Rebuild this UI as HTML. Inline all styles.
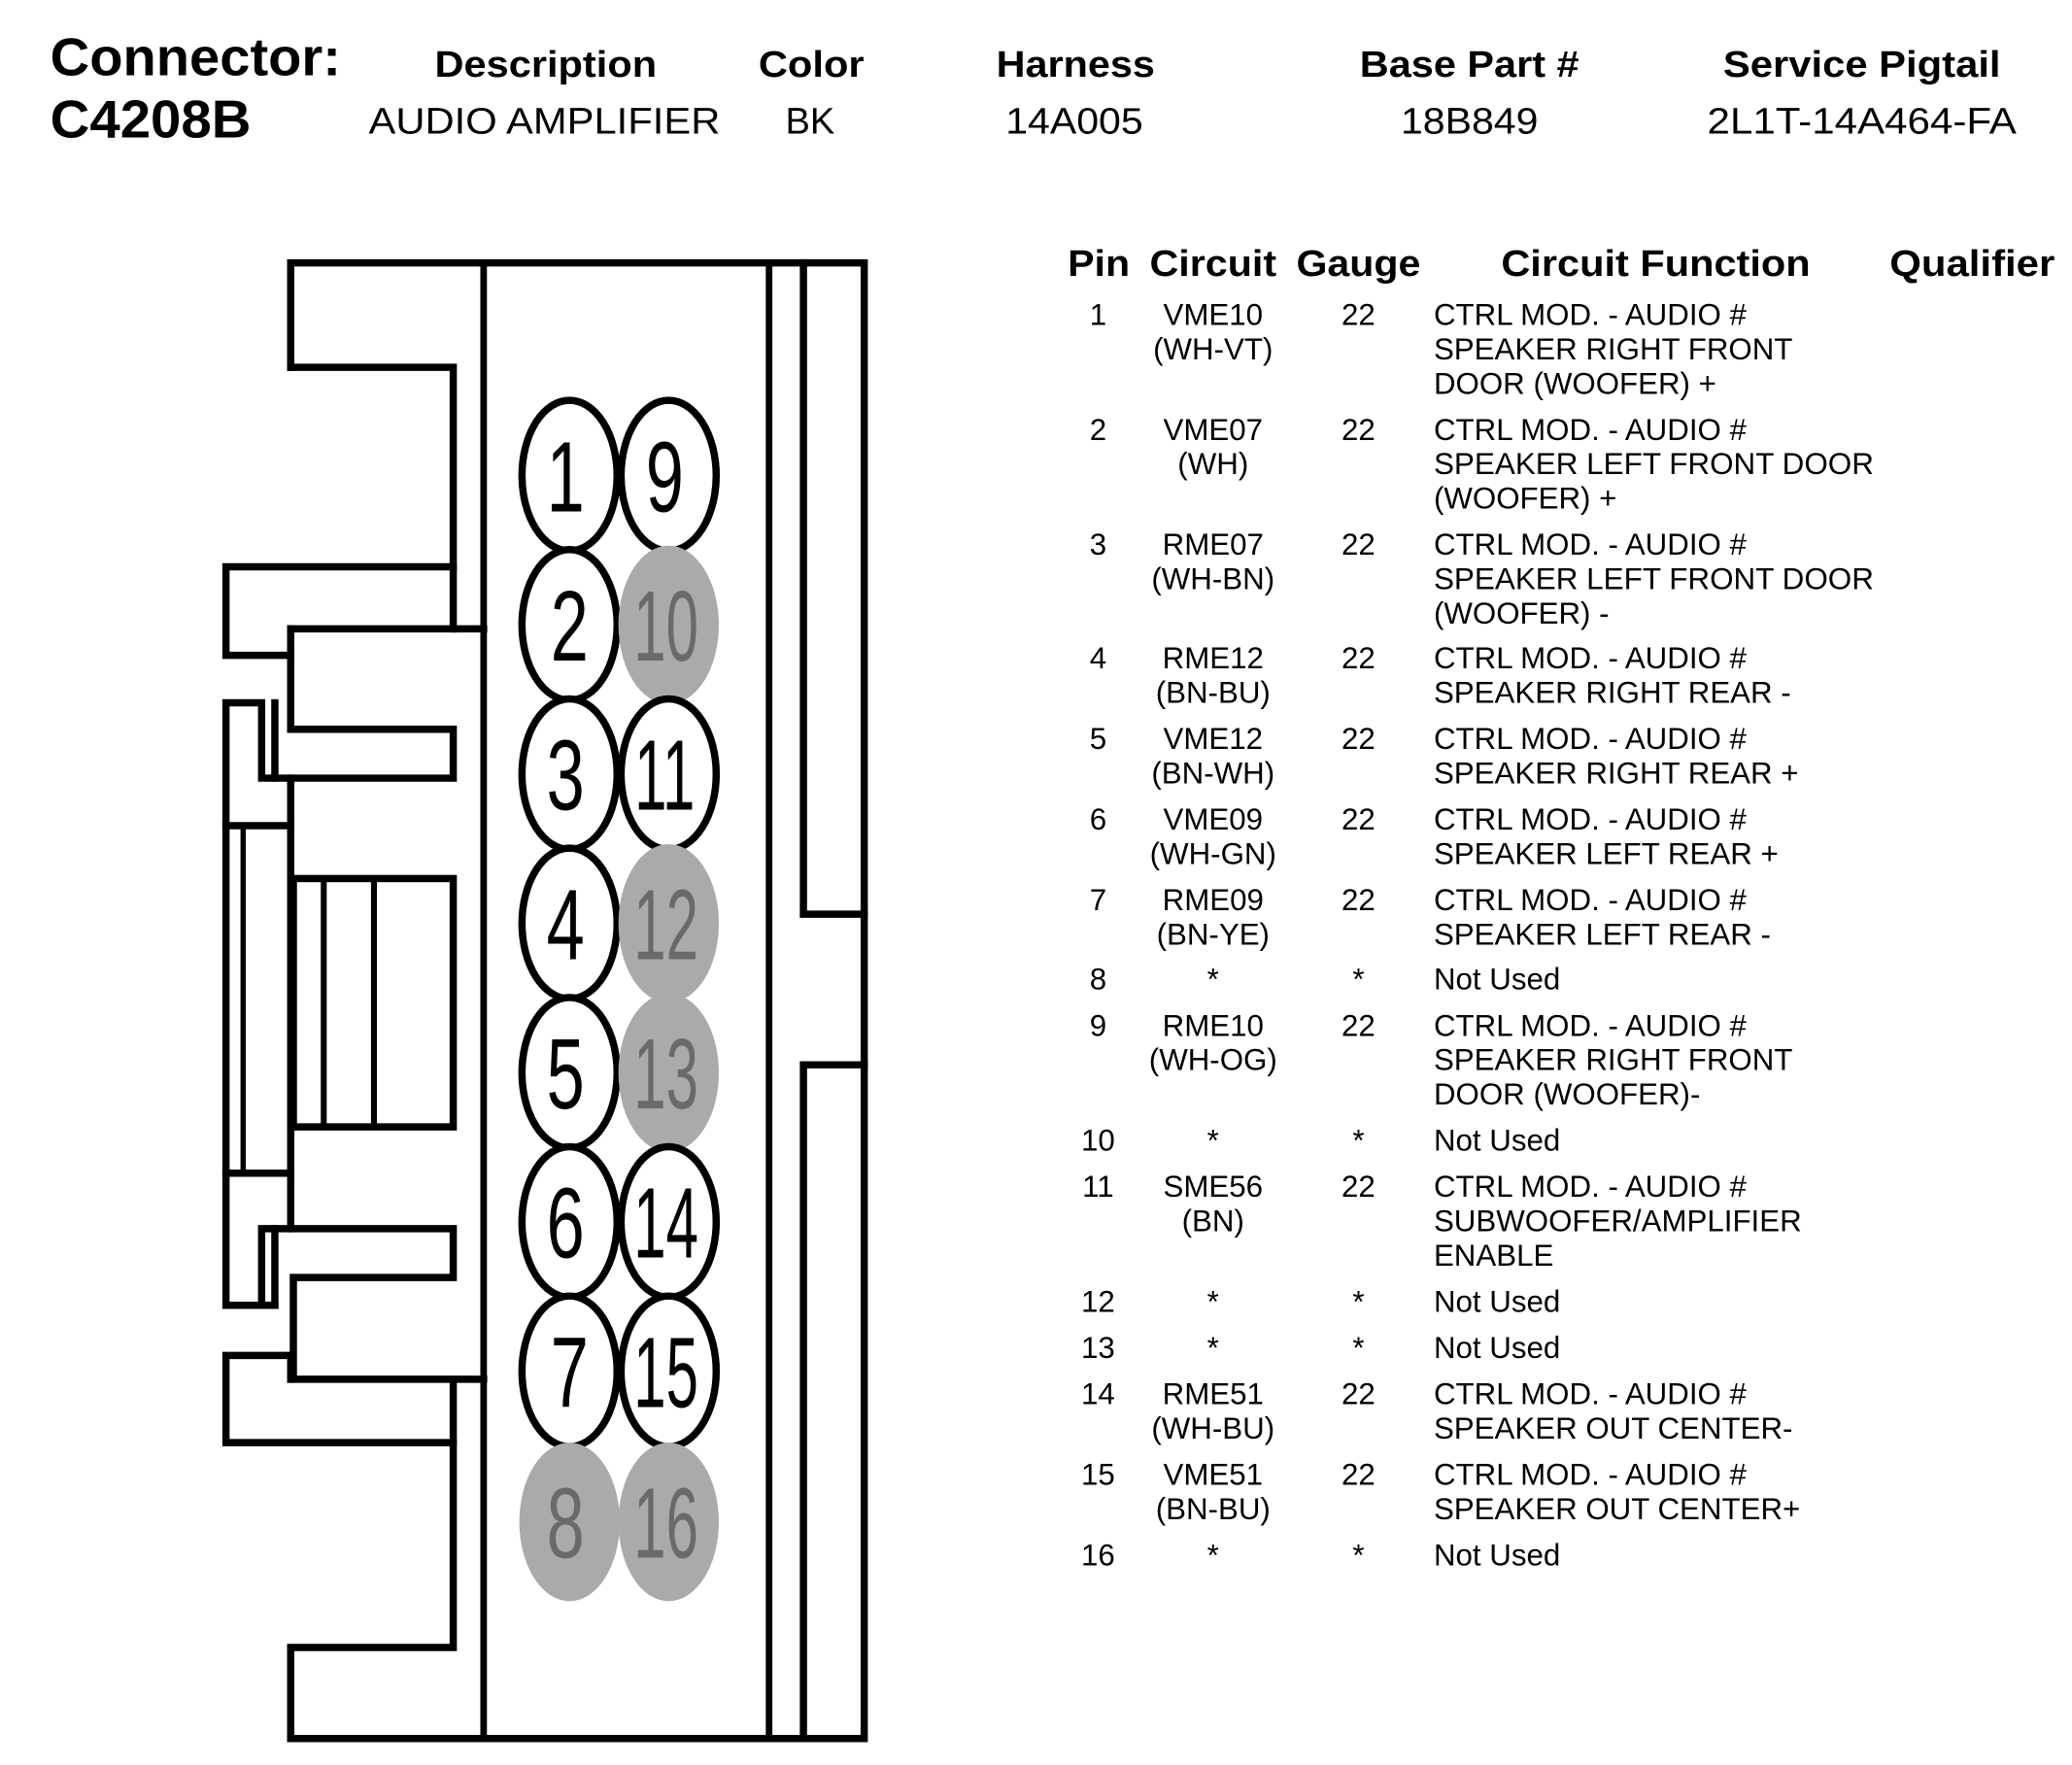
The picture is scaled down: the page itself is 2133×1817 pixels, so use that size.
<!DOCTYPE html>
<html><head><meta charset="utf-8"><style>
html,body{margin:0;padding:0;background:#fff;}
svg{display:block;}
text{font-family:"Liberation Sans",Arial,sans-serif;fill:#000;}
.h{font-weight:bold;font-size:28px;}
.v{font-size:28px;}
.t{font-size:23px;}
.n{font-size:76px;}
.g{fill:#6a6a6a;}
</style></head><body>
<svg width="2133" height="1817" viewBox="0 0 1568 1336" preserveAspectRatio="none" xmlns="http://www.w3.org/2000/svg">
<rect width="1568" height="1336" fill="#fff"/>
<text x="38" y="57" style="font-weight:bold;font-size:40px" textLength="220" lengthAdjust="spacingAndGlyphs">Connector:</text>
<text x="38" y="104" style="font-weight:bold;font-size:40px" textLength="152" lengthAdjust="spacingAndGlyphs">C4208B</text>
<g class="h" text-anchor="middle">
<text x="413" y="58" textLength="168" lengthAdjust="spacingAndGlyphs">Description</text>
<text x="614" y="58" textLength="80" lengthAdjust="spacingAndGlyphs">Color</text>
<text x="814" y="58" textLength="120" lengthAdjust="spacingAndGlyphs">Harness</text>
<text x="1112" y="58" textLength="166" lengthAdjust="spacingAndGlyphs">Base Part #</text>
<text x="1409" y="58" textLength="210" lengthAdjust="spacingAndGlyphs">Service Pigtail</text>
</g>
<g class="v" text-anchor="middle">
<text x="412" y="101" textLength="266" lengthAdjust="spacingAndGlyphs">AUDIO AMPLIFIER</text>
<text x="613" y="101">BK</text>
<text x="813" y="101" textLength="104" lengthAdjust="spacingAndGlyphs">14A005</text>
<text x="1112" y="101" textLength="104" lengthAdjust="spacingAndGlyphs">18B849</text>
<text x="1409" y="101" textLength="234" lengthAdjust="spacingAndGlyphs">2L1T-14A464-FA</text>
</g>

<g fill="none" stroke="#000" stroke-width="5.5" stroke-linecap="square" stroke-linejoin="miter">
<polyline points="220,278 220,199 654,199 654,1316 220,1316 220,1247 343,1247 343,1048"/>
<line x1="366" y1="199" x2="366" y2="1316" stroke-width="5"/>
<line x1="582" y1="199" x2="582" y2="1316" stroke-width="5"/>
<polyline points="608,199 608,692 654,692"/>
<polyline points="654,806 608,806 608,1316"/>
<polyline points="220,278 343,278 343,476"/>
<line x1="220" y1="476" x2="366" y2="476"/>
<polyline points="343,429 171,429 171,496 220,496"/>
<polyline points="220,476 220,552 343,552 343,589 198,589 198,532 171,532 171,988 208,988"/>
<line x1="208" y1="532" x2="208" y2="589"/>
<line x1="171" y1="625" x2="220" y2="625"/>
<line x1="184" y1="625" x2="184" y2="888" stroke-width="4"/>
<line x1="171" y1="888" x2="220" y2="888"/>
<line x1="220" y1="589" x2="220" y2="930"/>
<rect x="222" y="665" width="121" height="188"/>
<line x1="245" y1="665" x2="245" y2="853" stroke-width="4.5"/>
<line x1="283" y1="665" x2="283" y2="853" stroke-width="4.5"/>
<polyline points="198,988 198,930 343,930 343,967 222,967 222,1044 366,1044"/>
<line x1="208" y1="930" x2="208" y2="988"/>
<polyline points="220,1026 171,1026 171,1092 343,1092"/>
<line x1="220" y1="1026" x2="220" y2="1044"/>
</g>

<g>
<ellipse cx="431" cy="360" rx="36" ry="57" fill="#fff" stroke="#000" stroke-width="5.5"/>
<ellipse cx="506" cy="360" rx="36" ry="57" fill="#fff" stroke="#000" stroke-width="5.5"/>
<ellipse cx="431" cy="473" rx="36" ry="57" fill="#fff" stroke="#000" stroke-width="5.5"/>
<ellipse cx="506" cy="473" rx="38" ry="60" fill="#aaa"/>
<ellipse cx="431" cy="586" rx="36" ry="57" fill="#fff" stroke="#000" stroke-width="5.5"/>
<ellipse cx="506" cy="586" rx="36" ry="57" fill="#fff" stroke="#000" stroke-width="5.5"/>
<ellipse cx="431" cy="699" rx="36" ry="57" fill="#fff" stroke="#000" stroke-width="5.5"/>
<ellipse cx="506" cy="699" rx="38" ry="60" fill="#aaa"/>
<ellipse cx="431" cy="812" rx="36" ry="57" fill="#fff" stroke="#000" stroke-width="5.5"/>
<ellipse cx="506" cy="812" rx="38" ry="60" fill="#aaa"/>
<ellipse cx="431" cy="925" rx="36" ry="57" fill="#fff" stroke="#000" stroke-width="5.5"/>
<ellipse cx="506" cy="925" rx="36" ry="57" fill="#fff" stroke="#000" stroke-width="5.5"/>
<ellipse cx="431" cy="1038" rx="36" ry="57" fill="#fff" stroke="#000" stroke-width="5.5"/>
<ellipse cx="506" cy="1038" rx="36" ry="57" fill="#fff" stroke="#000" stroke-width="5.5"/>
<ellipse cx="431" cy="1152" rx="38" ry="60" fill="#aaa"/>
<ellipse cx="506" cy="1152" rx="38" ry="60" fill="#aaa"/>
</g>
<g class="n" text-anchor="middle">
<text transform="translate(428,387) scale(0.68,1)">1</text>
<text transform="translate(503,387) scale(0.68,1)">9</text>
<text transform="translate(431,500) scale(0.68,1)">2</text>
<text class="g" transform="translate(504,500) scale(0.58,1)">10</text>
<text transform="translate(428,613) scale(0.68,1)">3</text>
<text transform="translate(503,613) scale(0.58,1)">11</text>
<text transform="translate(428,726) scale(0.68,1)">4</text>
<text class="g" transform="translate(504,726) scale(0.58,1)">12</text>
<text transform="translate(428,839) scale(0.68,1)">5</text>
<text class="g" transform="translate(504,839) scale(0.58,1)">13</text>
<text transform="translate(428,952) scale(0.68,1)">6</text>
<text transform="translate(504,952) scale(0.58,1)">14</text>
<text transform="translate(431,1065) scale(0.68,1)">7</text>
<text transform="translate(504,1065) scale(0.58,1)">15</text>
<text class="g" transform="translate(428,1179) scale(0.68,1)">8</text>
<text class="g" transform="translate(504,1179) scale(0.58,1)">16</text>
</g>

<g class="h">
<text x="808" y="209" textLength="47" lengthAdjust="spacingAndGlyphs">Pin</text>
<text x="870" y="209" textLength="96" lengthAdjust="spacingAndGlyphs">Circuit</text>
<text x="981" y="209" textLength="94" lengthAdjust="spacingAndGlyphs">Gauge</text>
<text x="1136" y="209" textLength="234" lengthAdjust="spacingAndGlyphs">Circuit Function</text>
<text x="1430" y="209" textLength="125" lengthAdjust="spacingAndGlyphs">Qualifier</text>
</g>

<g class="t">
<g text-anchor="middle">
<text x="831" y="246">1</text><text x="918" y="246">VME10</text><text x="918" y="272">(WH-VT)</text><text x="1028" y="246">22</text>
<text x="831" y="333">2</text><text x="918" y="333">VME07</text><text x="918" y="359">(WH)</text><text x="1028" y="333">22</text>
<text x="831" y="420">3</text><text x="918" y="420">RME07</text><text x="918" y="446">(WH-BN)</text><text x="1028" y="420">22</text>
<text x="831" y="506">4</text><text x="918" y="506">RME12</text><text x="918" y="532">(BN-BU)</text><text x="1028" y="506">22</text>
<text x="831" y="567">5</text><text x="918" y="567">VME12</text><text x="918" y="593">(BN-WH)</text><text x="1028" y="567">22</text>
<text x="831" y="628">6</text><text x="918" y="628">VME09</text><text x="918" y="654">(WH-GN)</text><text x="1028" y="628">22</text>
<text x="831" y="689">7</text><text x="918" y="689">RME09</text><text x="918" y="715">(BN-YE)</text><text x="1028" y="689">22</text>
<text x="831" y="749">8</text><text x="918" y="749">*</text><text x="1028" y="749">*</text>
<text x="831" y="784">9</text><text x="918" y="784">RME10</text><text x="918" y="810">(WH-OG)</text><text x="1028" y="784">22</text>
<text x="831" y="871">10</text><text x="918" y="871">*</text><text x="1028" y="871">*</text>
<text x="831" y="906">11</text><text x="918" y="906">SME56</text><text x="918" y="932">(BN)</text><text x="1028" y="906">22</text>
<text x="831" y="993">12</text><text x="918" y="993">*</text><text x="1028" y="993">*</text>
<text x="831" y="1028">13</text><text x="918" y="1028">*</text><text x="1028" y="1028">*</text>
<text x="831" y="1063">14</text><text x="918" y="1063">RME51</text><text x="918" y="1089">(WH-BU)</text><text x="1028" y="1063">22</text>
<text x="831" y="1124">15</text><text x="918" y="1124">VME51</text><text x="918" y="1150">(BN-BU)</text><text x="1028" y="1124">22</text>
<text x="831" y="1185">16</text><text x="918" y="1185">*</text><text x="1028" y="1185">*</text>
</g>
<g>
<text x="1085" y="246">CTRL MOD. - AUDIO #</text>
<text x="1085" y="272">SPEAKER RIGHT FRONT</text>
<text x="1085" y="298">DOOR (WOOFER) +</text>
<text x="1085" y="333">CTRL MOD. - AUDIO #</text>
<text x="1085" y="359" textLength="333" lengthAdjust="spacingAndGlyphs">SPEAKER LEFT FRONT DOOR</text>
<text x="1085" y="385">(WOOFER) +</text>
<text x="1085" y="420">CTRL MOD. - AUDIO #</text>
<text x="1085" y="446" textLength="333" lengthAdjust="spacingAndGlyphs">SPEAKER LEFT FRONT DOOR</text>
<text x="1085" y="472">(WOOFER) -</text>
<text x="1085" y="506">CTRL MOD. - AUDIO #</text>
<text x="1085" y="532">SPEAKER RIGHT REAR -</text>
<text x="1085" y="567">CTRL MOD. - AUDIO #</text>
<text x="1085" y="593">SPEAKER RIGHT REAR +</text>
<text x="1085" y="628">CTRL MOD. - AUDIO #</text>
<text x="1085" y="654">SPEAKER LEFT REAR +</text>
<text x="1085" y="689">CTRL MOD. - AUDIO #</text>
<text x="1085" y="715">SPEAKER LEFT REAR -</text>
<text x="1085" y="749">Not Used</text>
<text x="1085" y="784">CTRL MOD. - AUDIO #</text>
<text x="1085" y="810">SPEAKER RIGHT FRONT</text>
<text x="1085" y="836">DOOR (WOOFER)-</text>
<text x="1085" y="871">Not Used</text>
<text x="1085" y="906">CTRL MOD. - AUDIO #</text>
<text x="1085" y="932">SUBWOOFER/AMPLIFIER</text>
<text x="1085" y="958">ENABLE</text>
<text x="1085" y="993">Not Used</text>
<text x="1085" y="1028">Not Used</text>
<text x="1085" y="1063">CTRL MOD. - AUDIO #</text>
<text x="1085" y="1089">SPEAKER OUT CENTER-</text>
<text x="1085" y="1124">CTRL MOD. - AUDIO #</text>
<text x="1085" y="1150">SPEAKER OUT CENTER+</text>
<text x="1085" y="1185">Not Used</text>
</g>
</g>
</svg>
</body></html>
